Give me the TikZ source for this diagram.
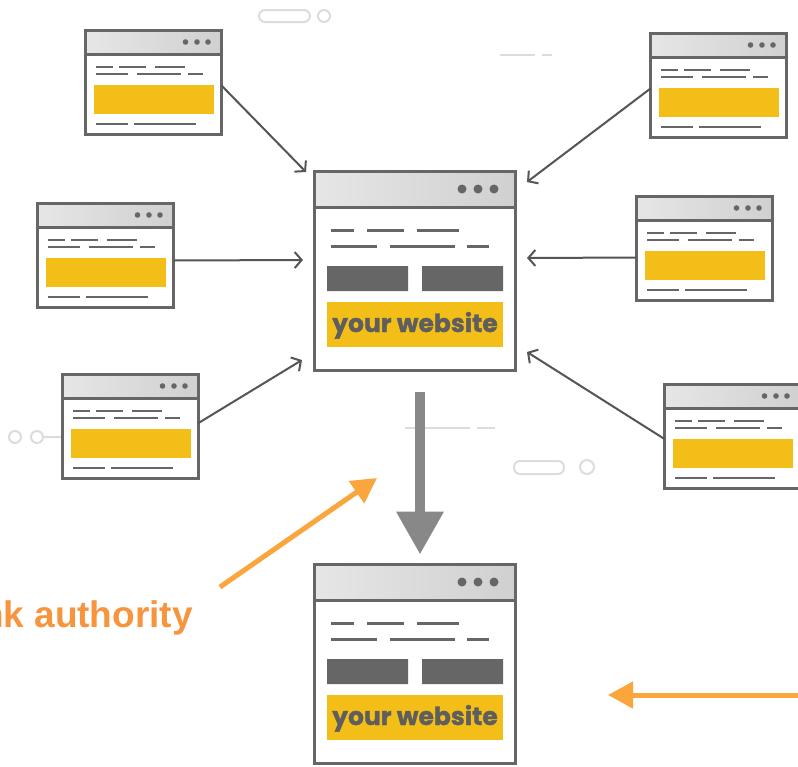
\documentclass[tikz,border=0pt]{standalone}
\usepackage{fontspec}
\setmainfont{Liberation Sans}
\newfontfamily\popfont{Poppins}[BoldFeatures={FakeBold=1.2}]
\usetikzlibrary{arrows.meta,calc}
\definecolor{wborder}{HTML}{666666}
\definecolor{wline}{HTML}{666666}
\definecolor{wyellow}{HTML}{F4BE18}
\definecolor{tbarL}{HTML}{E6E6E6}
\definecolor{tbarR}{HTML}{D0D0D0}
\definecolor{conn}{HTML}{555555}
\definecolor{bigarrowc}{HTML}{888888}
\definecolor{orangeA}{HTML}{FBA53D}
\definecolor{orangeT}{HTML}{F7953F}
\definecolor{deco}{HTML}{DCDCDC}
\definecolor{webtext}{HTML}{5E5E5E}
\tikzset{
  winframe/.style={draw=wborder, line width=3pt, inner sep=0pt, outer sep=0pt, anchor=north west},
  txtline/.style={draw=wline, line width=2.5pt},
  bigtxtline/.style={draw=wline, line width=3pt},
  connector/.style={draw=conn, line width=2pt, -{Straight Barb[length=7pt,width=16pt]}},
  orangearrow/.style={draw=orangeA, line width=5pt, -{Triangle[length=25pt,width=26pt]}},
  bigdown/.style={draw=bigarrowc, line width=10pt, -{Triangle[length=43pt,width=45pt]}},
  decoline/.style={draw=deco, line width=2pt},
  smallwin/.pic={
    \fill[white] (0,0) rectangle (136,104);
    \shade[left color=tbarL, right color=tbarR] (0,0) rectangle (136,23.5);
    \draw[draw=wborder, line width=3pt] (0,23.5) -- (136,23.5);
    \fill[wborder] (100,11.5) circle (2.8) (111.5,11.5) circle (2.8) (122.5,11.5) circle (2.8);
    \draw[txtline] (10.5,36.5) -- (27.5,36.5) (33.5,36.5) -- (60.5,36.5) (69.5,36.5) -- (99.5,36.5);
    \draw[txtline] (10.5,43.5) -- (42.5,43.5) (51.5,43.5) -- (95.5,43.5) (102.5,43.5) -- (117.5,43.5);
    \fill[wyellow] (8.5,54.5) rectangle (128.5,83.5);
    \draw[txtline] (10.5,93.5) -- (42.5,93.5) (48.5,93.5) -- (110.5,93.5);
    \node[winframe, minimum width=136pt, minimum height=104pt] (-box) at (0,0) {};
  },
  bigwin/.pic={
    \fill[white] (0,0) rectangle (201,199);
    \shade[left color=tbarL, right color=tbarR] (0,0) rectangle (201,35.5);
    \draw[draw=wborder, line width=3pt] (0,35.5) -- (201,35.5);
    \fill[wborder] (147.5,17.5) circle (4.5) (163.5,17.5) circle (4.5) (179.5,17.5) circle (4.5);
    \draw[bigtxtline] (16.5,58.5) -- (39.5,58.5) (52.5,58.5) -- (89.5,58.5) (102.5,58.5) -- (144.5,58.5);
    \draw[bigtxtline] (16.5,74.5) -- (62.5,74.5) (75.5,74.5) -- (140.5,74.5) (152.5,74.5) -- (174.5,74.5);
    \fill[wborder] (12.5,94.5) rectangle (93.5,119.5) (107.5,94.5) rectangle (188.5,119.5);
    \fill[wyellow] (12.5,130.5) rectangle (188.5,175.5);
    \node[anchor=base, inner sep=0pt, text=webtext, font=\popfont\bfseries\fontsize{25}{28}\selectfont] (-label) at (100.5,160.5) {your website};
    \node[winframe, minimum width=201pt, minimum height=199pt] (-box) at (0,0) {};
  }
}
\begin{document}
\begin{tikzpicture}[x=1pt, y=-1pt]
\useasboundingbox (0,0) rectangle (798,766);
\clip (0,0) rectangle (798,766);
\fill[white] (0,0) rectangle (798,766);
% light decorations
\draw[decoline, rounded corners=6pt] (259,10) rectangle (310,22);
\draw[decoline] (324,16) circle (6);
\draw[decoline] (500,55) -- (535,55) (542,55) -- (552,55);
\draw[decoline] (15,437) circle (6) (37,437) circle (6) (43,437) -- (61,437);
\draw[decoline] (405,428) -- (470,428) (477,428) -- (495,428);
\draw[decoline, rounded corners=6pt] (514,461) rectangle (564,474);
\draw[decoline] (587,467) circle (7);
% windows
\pic (main) at (314.5,171.5) {bigwin};
\pic (res) at (314.5,564.5) {bigwin};
\pic (tl) at (85.5,30.5) {smallwin};
\pic (lm) at (37.5,203.5) {smallwin};
\pic (ll) at (62.5,374.5) {smallwin};
\pic (tr) at (650.5,33.5) {smallwin};
\pic (rm) at (636.5,196.5) {smallwin};
\pic (rl) at (664.5,384.5) {smallwin};
% connector ends
\coordinate (c1) at (306,172);
\coordinate (c2) at (303,260);
\coordinate (c3) at (302,360);
\coordinate (c4) at (527,182);
\coordinate (c5) at (527,258);
\coordinate (c6) at (527,352);
\draw[connector] ($(tl-box.east)+(0,3)$) -- (c1);
\draw[connector] ($(lm-box.east)+(0,5)$) -- (c2);
\draw[connector] ($(ll-box.east)+(0,-3.5)$) -- (c3);
\draw[connector] ($(tr-box.west)+(0,3)$) -- (c4);
\draw[connector] ($(rm-box.west)+(0,9)$) -- (c5);
\draw[connector] ($(rl-box.west)+(0,2.5)$) -- (c6);
% big gray arrow
\draw[bigdown] ($(main-box.south)+(5,21)$) -- ($(res-box.north)+(5,-10)$);
% orange annotations
\node[anchor=base east, inner sep=0pt, text=orangeT, font=\bfseries\fontsize{37}{40}\selectfont] (lbl) at (193,627) {nk authority};
\coordinate (oa1s) at (220,587);
\coordinate (oa1e) at (377,478);
\coordinate (oa2s) at (805,695);
\coordinate (oa2e) at (608,695);
\draw[orangearrow] (oa1s) -- (oa1e);
\draw[orangearrow] (oa2s) -- (oa2e);
\end{tikzpicture}
\end{document}
